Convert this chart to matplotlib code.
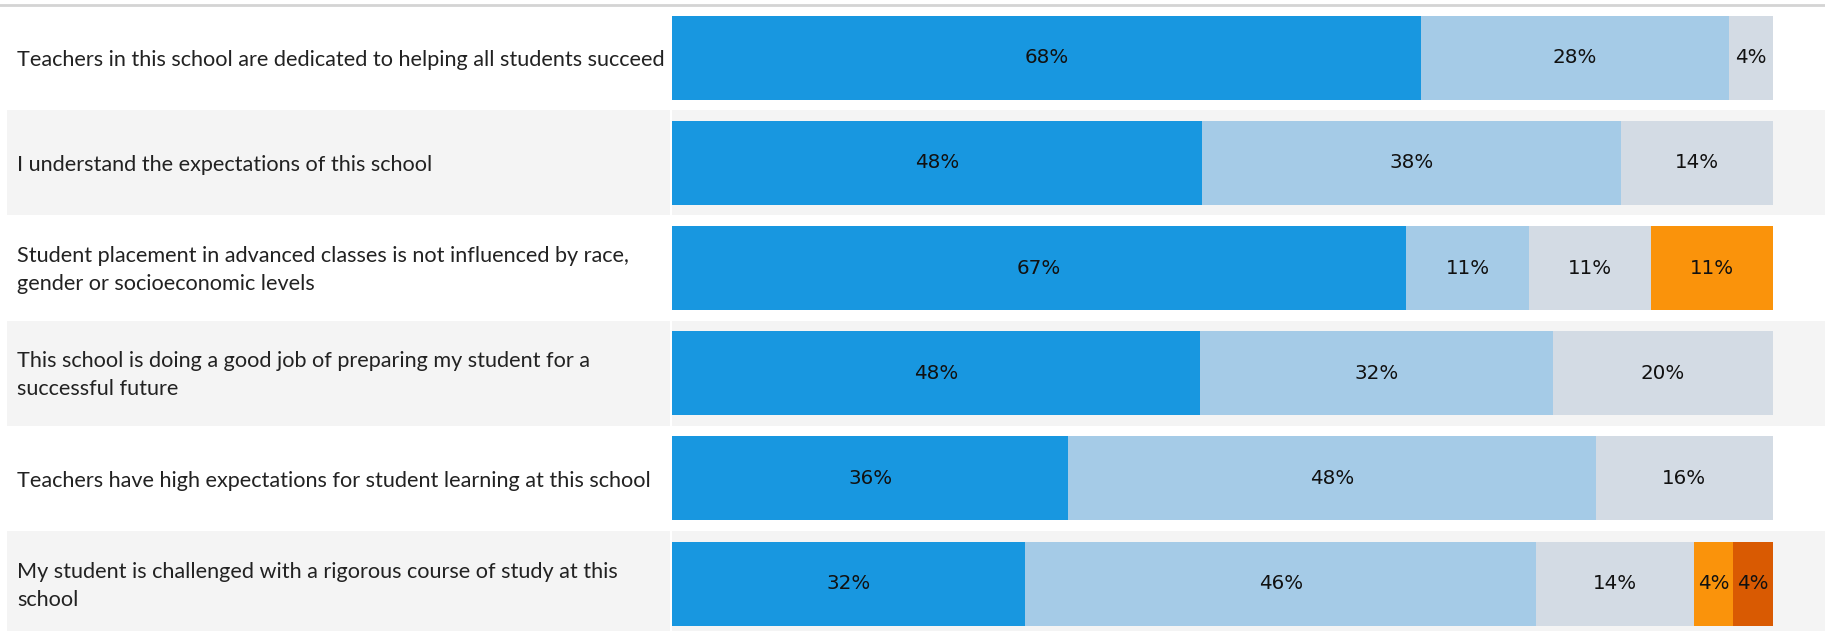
import matplotlib
matplotlib.use("Agg")
import matplotlib.pyplot as plt
import matplotlib.transforms as mtransforms
import numpy as np

questions = [
    "Teachers in this school are dedicated to helping all students succeed",
    "I understand the expectations of this school",
    "Student placement in advanced classes is not influenced by race,\ngender or socioeconomic levels",
    "This school is doing a good job of preparing my student for a\nsuccessful future",
    "Teachers have high expectations for student learning at this school",
    "My student is challenged with a rigorous course of study at this\nschool",
]
strongly_agree = [68.0, 48.1, 66.7, 48.0, 36.0, 32.1]
agree = [28.0, 38.1, 11.1, 32.0, 47.9, 46.4]
neutral = [4.0, 13.8, 11.1, 20.0, 16.1, 14.3]
disagree = [0, 0, 11.1, 0, 0, 3.6]
strongly_disagree = [0, 0, 0, 0, 0, 3.6]

series = [strongly_agree, agree, neutral, disagree, strongly_disagree]
colors = ["#1897e0", "#a5cbe7", "#d3dbe4", "#fa930b", "#d95a02"]

W, H = 1825, 631
fig = plt.figure(figsize=(W / 100, H / 100), dpi=100)
ax = fig.add_axes([0, 0, 1, 1])

x0_px, x100_px = 672, 1773
ppu = (x100_px - x0_px) / 100.0
ax.set_xlim(-x0_px / ppu, (W - x0_px) / ppu)
top_px = 5.0
row_h = 105.2
ax.set_ylim(-0.5 + (H - top_px) / row_h, -0.5 - top_px / row_h)
ax.axis("off")

n = len(questions)
y = np.arange(n)

# row banding
for i in range(n):
    if i % 2 == 1:
        ax.axhspan(i - 0.5, i + 0.5, xmin=7 / W, xmax=1, color="#f4f4f4", zorder=0, lw=0)

# pane divider
ax.axvline(-1.5 / ppu, color="#ffffff", lw=1.5, zorder=0.5)

# top rule
ax.axhline(-0.5 - 0.2 / row_h, color="#d4d4d4", lw=2, zorder=1)

left = np.zeros(n)
for vals, c in zip(series, colors):
    vals = np.array(vals, dtype=float)
    ax.barh(y, vals, left=left, height=0.80, color=c, lw=0, zorder=2)
    for i in range(n):
        if vals[i] > 0:
            ax.text(left[i] + vals[i] / 2, y[i], f"{round(vals[i]):d}%", ha="center", va="center",
                    fontsize=14.3, color="#111111", family="DejaVu Sans", zorder=3)
    left += vals

trans = mtransforms.blended_transform_factory(ax.transAxes, ax.transData)
for i, q in enumerate(questions):
    ax.text(17 / W, y[i] + 0.02, q, transform=trans, ha="left", va="center", fontsize=15.6,
            family="Lato", color="#222222", linespacing=1.48, zorder=3)

fig.savefig("out.png", dpi=100, facecolor="white")
